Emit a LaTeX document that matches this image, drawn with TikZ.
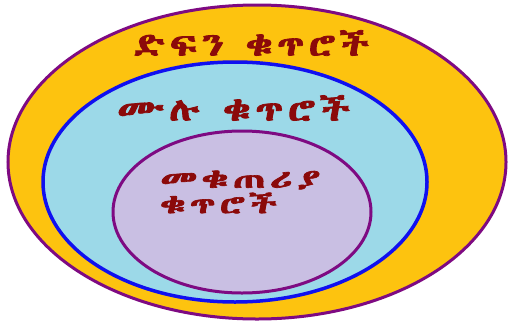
\documentclass[tikz,border=0pt]{standalone}
\usepackage{fontspec}
\usepackage{graphicx}
\newfontfamily\ethfont[FakeBold=2.5, LetterSpace=12]{Abyssinica SIL}
\definecolor{gold}{HTML}{FDC30F}
\definecolor{skyfill}{HTML}{9CD9E8}
\definecolor{lavfill}{HTML}{C9BFE3}
\definecolor{rim}{HTML}{7E0A82}
\definecolor{bluerim}{HTML}{1010F0}
\definecolor{txt}{HTML}{8B0A0A}
\newcommand\fitw[2]{\resizebox{#1}{\height}{#2}}
\tikzset{
  lbl/.style={text=txt, font=\ethfont\fontsize{32}{26}\selectfont, inner sep=0pt, anchor=west},
  inlbl/.style={lbl, font=\ethfont\fontsize{26}{24}\selectfont},
}
\begin{document}
\begin{tikzpicture}[x=1pt,y=-1pt]
\useasboundingbox (0,0) rectangle (510,324);
\draw[rim, line width=3pt, fill=gold] (257,162) ellipse [x radius=249, y radius=157];
\draw[bluerim, line width=3.5pt, fill=skyfill] (235,182) ellipse [x radius=192, y radius=120];
\draw[rim, line width=3pt, fill=lavfill] (242,212) ellipse [x radius=129, y radius=81];
\node[lbl] (a) at (133,43) {\fitw{236pt}{ድፍን ቁጥሮች}};
\node[lbl] (b) at (117,108) {\fitw{233pt}{ሙሉ ቁጥሮች}};
\node[inlbl] (c1) at (160,180) {\fitw{160pt}{መቁጠሪያ}};
\node[inlbl] (c2) at (160,203) {\fitw{117pt}{ቁጥሮች}};
\end{tikzpicture}
\end{document}
